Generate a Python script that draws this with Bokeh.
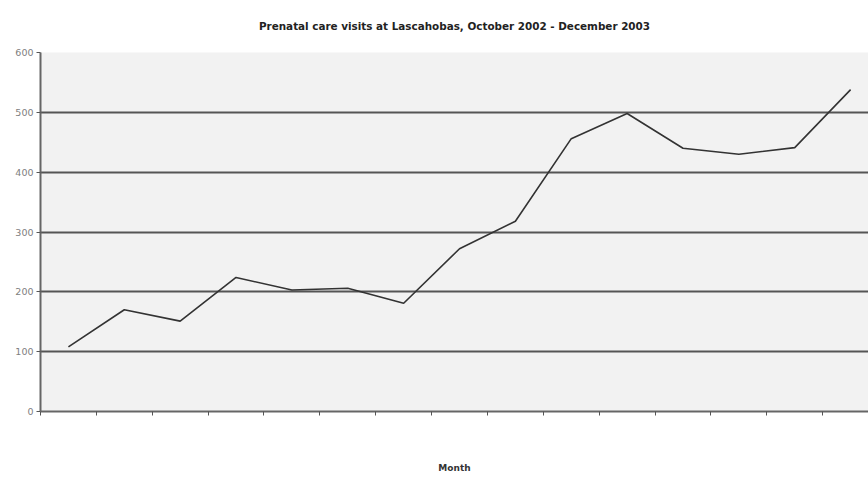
from bokeh.plotting import figure
from bokeh.models import Range1d, FixedTicker, Title
from bokeh.embed import file_html
from bokeh.resources import INLINE

months = ["Oct 2002", "Nov 2002", "Dec 2002", "Jan 2003", "Feb 2003", "Mar 2003",
          "Apr 2003", "May 2003", "Jun 2003", "Jul 2003", "Aug 2003", "Sep 2003",
          "Oct 2003", "Nov 2003", "Dec 2003"]
visits = [108, 170, 151, 224, 203, 206, 181, 272, 318, 456, 498, 440, 430, 441, 538]
y_ticks = [0, 100, 200, 300, 400, 500, 600]
title_text = "Prenatal care visits at Lascahobas, October 2002 - December 2003"

xs = [i + 0.5 for i in range(len(months))]

p = figure(width=868, height=479, output_backend="svg", toolbar_location=None,
           x_range=Range1d(0, 14.82), y_range=Range1d(0, 600),
           min_border_left=40, min_border_right=0, min_border_top=52,
           min_border_bottom=68)
p.background_fill_color = "#f2f2f2"
p.border_fill_color = "white"
p.outline_line_color = None

p.line(xs, visits, line_color="#333333", line_width=1.6)

p.yaxis.ticker = FixedTicker(ticks=y_ticks)
p.xaxis.ticker = FixedTicker(ticks=list(range(len(months) + 1)))
p.xaxis.major_label_text_font_size = "0px"
p.xaxis.major_label_text_color = None
for ax in (p.xaxis, p.yaxis):
    ax.axis_line_color = "#666666"
    ax.axis_line_width = 2
    ax.major_tick_line_color = "#555555"
    ax.major_tick_out = 4
    ax.major_tick_in = 0
    ax.minor_tick_line_color = None
p.yaxis.major_label_text_font = "DejaVu Sans"
p.yaxis.major_label_text_font_size = "9.5px"
p.yaxis.major_label_text_color = "#808080"
p.yaxis.major_label_standoff = 3

p.xaxis.axis_label = "Month"
p.xaxis.axis_label_text_font = "DejaVu Sans"
p.xaxis.axis_label_text_font_size = "9px"
p.xaxis.axis_label_text_font_style = "bold"
p.xaxis.axis_label_text_color = "#333333"
p.xaxis.axis_label_standoff = 47

p.xgrid.grid_line_color = None
p.ygrid.ticker = FixedTicker(ticks=y_ticks)
p.ygrid.grid_line_color = "#555555"
p.ygrid.grid_line_width = 2

t = Title(text=title_text,
          align="center", text_font="DejaVu Sans", text_font_size="10.4px",
          text_font_style="bold", text_color="#222222", standoff=37, offset=5,
          vertical_align="top")
p.add_layout(t, "above")

open("out.html", "w").write(file_html(p, INLINE))
